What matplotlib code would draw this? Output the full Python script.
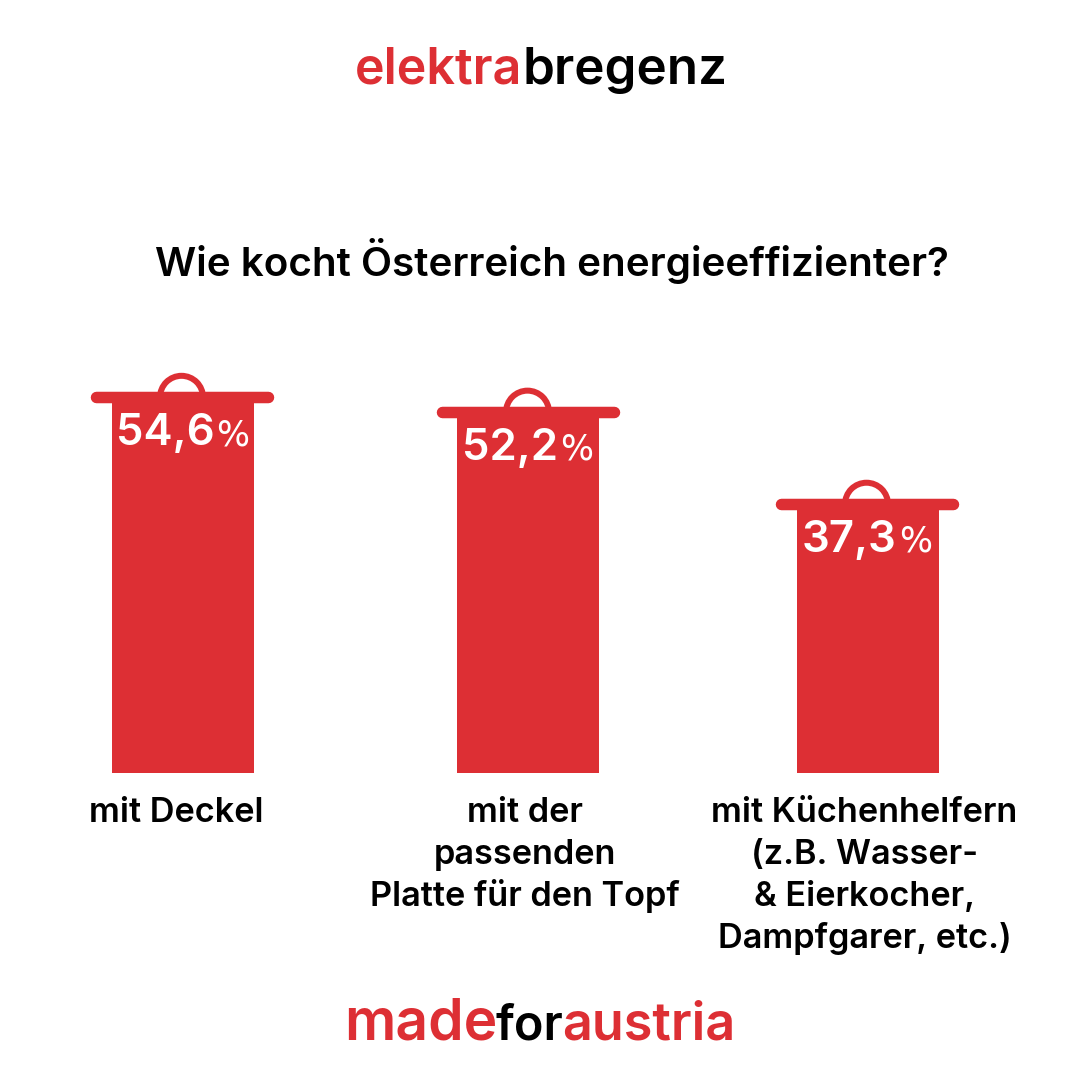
import matplotlib
matplotlib.use("Agg")
import matplotlib.pyplot as plt
from matplotlib.patches import Arc

# --- data ---
categories = [
    ["mit Deckel"],
    ["mit der", "passenden", "Platte für den Topf"],
    ["mit Küchenhelfern", "(z.B. Wasser-", "& Eierkocher,", "Dampfgarer, etc.)"],
]
values = [54.6, 52.2, 37.3]
value_labels = ["54,6", "52,2", "37,3"]
title = "Wie kocht Österreich energieeffizienter?"

# --- layout ---
RED = "#DD2F34"
FONT = "Inter"
W = "semibold"
S = 1080
bar_x = [183, 528, 867.5]
lid_x = [181.5, 527.5, 866.5]
label_x = [176, 525, 864.5]
bar_w = 142
lid_half = 86
px_per_unit = 6.18
base_value = -5.26
base_px = 773

fig = plt.figure(figsize=(10.8, 10.8), dpi=100, facecolor="white")
ax = fig.add_axes([0, 0, 1, 1])
ax.set_xlim(0, S)
ax.set_ylim(base_value - (S - base_px) / px_per_unit, base_value + base_px / px_per_unit)
ax.axis("off")


def ptxt(x, y, s, size, color="black", ha="center", weight=W, family=FONT, **kw):
    return fig.text(x / S, 1 - y / S, s, fontsize=size, color=color, ha=ha, va="baseline",
                    family=family, fontweight=weight, **kw)


ax.bar(bar_x, [v - base_value for v in values], bottom=base_value, width=bar_w, color=RED, linewidth=0)

lid_h_px = 11.5
for lx, v in zip(lid_x, values):
    yc = v + (lid_h_px / 2) / px_per_unit
    ax.plot([lx - lid_half, lx + lid_half], [yc, yc], color=RED, lw=lid_h_px * 0.72,
            solid_capstyle="round", zorder=3)
    r = 21.5
    ax.add_patch(Arc((lx, yc), 2 * r, 2 * r / px_per_unit, theta1=0, theta2=180,
                     color=RED, lw=6 * 0.72, zorder=3))

renderer = fig.canvas.get_renderer()
for bx, v, lab in zip(bar_x, values, value_labels):
    py = base_px - (v - base_value) * px_per_unit
    num = ptxt(bx, py + 42, lab, 31.5, color="white", ha="left", zorder=5)
    pct = ptxt(bx, py + 42, "%", 25, color="white", ha="left", weight="normal",
               family="Liberation Sans Narrow", zorder=5)
    wn = num.get_window_extent(renderer).width
    wp = pct.get_window_extent(renderer).width
    gap = 2
    x0 = bx - 0.5 - (wn + gap + wp) / 2
    num.set_x(x0 / S)
    pct.set_x((x0 + wn + gap) / S)

for lx, lines in zip(label_x, categories):
    for i, line in enumerate(lines):
        ptxt(lx, 822 + 42 * i, line, 24.7)

ptxt(552, 276, title, 29.1)

# logos
ptxt(522, 84, "elektra", 36.1, color=RED, ha="right")
ptxt(522, 84, "bregenz", 36.8, ha="left")
ptxt(497, 1040, "made", 41, color=RED, ha="right")
ptxt(529.5, 1040, "for", 35, ha="center")
ptxt(562, 1040, "austria", 37.6, color=RED, ha="left")

fig.savefig("out.png", dpi=100, facecolor="white")
